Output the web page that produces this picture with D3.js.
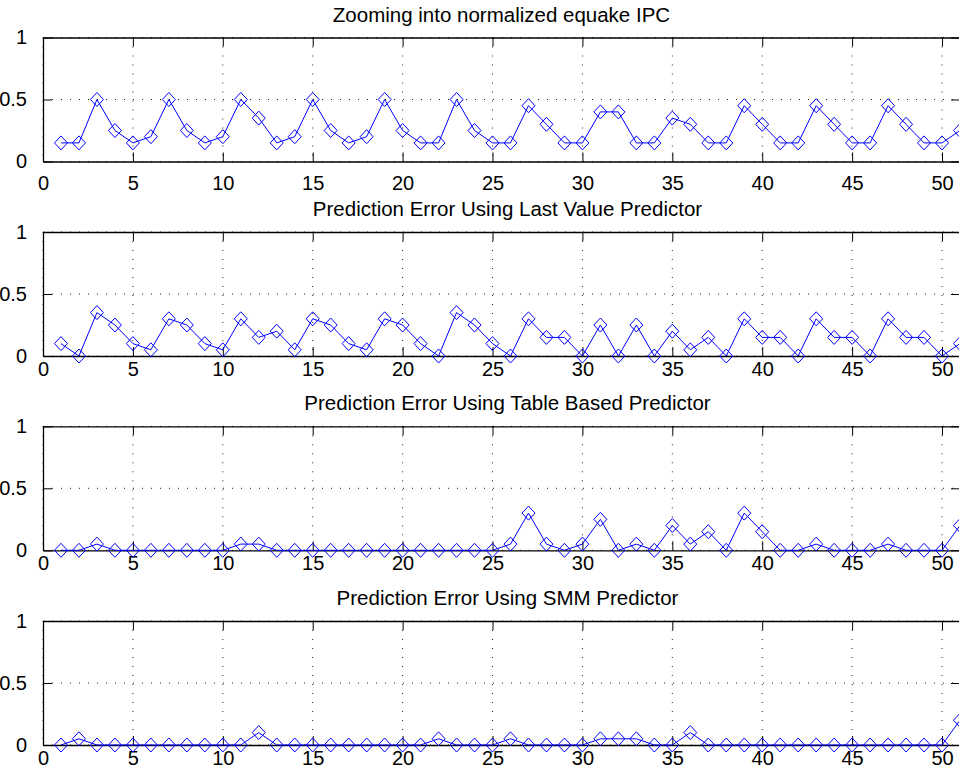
<!DOCTYPE html>
<html>
<head>
<meta charset="utf-8">
<script src="https://cdn.jsdelivr.net/npm/d3@7"></script>
<style>
  html, body { margin: 0; padding: 0; background: #fff; }
  svg { display: block; }
  text { font-family: "Liberation Sans", Arial, Helvetica, sans-serif; fill: #000; }
</style>
</head>
<body>
<svg id="fig" width="959" height="774"></svg>
<script>
// Sample index along the trace
const steps = [1,2,3,4,5,6,7,8,9,10,11,12,13,14,15,16,17,18,19,20,21,22,23,24,25,
               26,27,28,29,30,31,32,33,34,35,36,37,38,39,40,41,42,43,44,45,46,47,48,49,50,51];

// Normalized equake IPC
const ipc = [0.15,0.15,0.5,0.25,0.15,0.2,0.5,0.25,0.15,0.2,0.5,0.35,0.15,0.2,0.5,0.25,0.15,0.2,0.5,0.25,
             0.15,0.15,0.5,0.25,0.15,0.15,0.45,0.3,0.15,0.15,0.4,0.4,0.15,0.15,0.35,0.3,0.15,0.15,0.45,0.3,
             0.15,0.15,0.45,0.3,0.15,0.15,0.45,0.3,0.15,0.15,0.25];

// Prediction error, last value predictor
const errLastValue = [0.1,0,0.35,0.25,0.1,0.05,0.3,0.25,0.1,0.05,0.3,0.15,0.2,0.05,0.3,0.25,0.1,0.05,0.3,0.25,
                      0.1,0,0.35,0.25,0.1,0,0.3,0.15,0.15,0,0.25,0,0.25,0,0.2,0.05,0.15,0,0.3,0.15,
                      0.15,0,0.3,0.15,0.15,0,0.3,0.15,0.15,0,0.1];

// Prediction error, table based predictor
const errTable = [0,0,0.05,0,0,0,0,0,0,0,0.05,0.05,0,0,0,0,0,0,0,0,
                  0,0,0,0,0,0.05,0.3,0.05,0,0.05,0.25,0,0.05,0,0.2,0.05,0.15,0,0.3,0.15,
                  0,0,0.05,0,0,0,0.05,0,0,0,0.2];

// Prediction error, SMM predictor
const errSMM = [0,0.05,0,0,0,0,0,0,0,0,0,0.1,0,0,0,0,0,0,0,0,
                0,0.05,0,0,0,0.05,0,0,0,0,0.05,0.05,0.05,0,0,0.1,0,0,0,0,
                0,0,0,0,0,0,0,0,0,0,0.2];

const titles = [
  "Zooming into normalized equake IPC",
  "Prediction Error Using Last Value Predictor",
  "Prediction Error Using Table Based Predictor",
  "Prediction Error Using SMM Predictor"
];
const seriesList = [ipc, errLastValue, errTable, errSMM];

const xTicks = [0,5,10,15,20,25,30,35,40,45,50];
const yTicks = [0,0.5,1];
const xDomain = [0, 51];
const yDomain = [0, 1];

// Layout of the four stacked axes
const left = 43, right = 960;
const panelTops = [37.5, 232, 426.3, 621];
const panelH = 124;
const xLabelPad = [14, 6, 6, 6];
const tickLen = 9;
const blue = "#0000ff";

const svg = d3.select("#fig");
svg.append("rect").attr("width", 959).attr("height", 774).attr("fill", "#fff");

const x = d3.scaleLinear().domain(xDomain).range([left, right]);
const diamond = "M0,-7L6.5,0L0,7L-6.5,0Z";

seriesList.forEach((vals, i) => {
  const top = panelTops[i];
  const y = d3.scaleLinear().domain(yDomain).range([top + panelH, top]);
  const g = svg.append("g");

  // dotted grid
  g.append("g").selectAll("line").data(xTicks).join("line")
    .attr("x1", d => x(d)).attr("x2", d => x(d))
    .attr("y1", top).attr("y2", top + panelH)
    .attr("stroke", "#222").attr("stroke-width", 1).attr("stroke-dasharray", "1,8");
  g.append("g").selectAll("line").data(yTicks).join("line")
    .attr("x1", left).attr("x2", right)
    .attr("y1", d => y(d)).attr("y2", d => y(d))
    .attr("stroke", "#222").attr("stroke-width", 1).attr("stroke-dasharray", "1,8");

  // axes: bottom/left with labels, top/right without, all ticks pointing inward
  const bottomAxis = d3.axisBottom(x).tickValues(xTicks).tickFormat(d3.format("d"))
    .tickSizeInner(-tickLen).tickSizeOuter(0).tickPadding(xLabelPad[i]);
  const topAxis = d3.axisTop(x).tickValues(xTicks).tickFormat("")
    .tickSizeInner(-tickLen).tickSizeOuter(0);
  const leftAxis = d3.axisLeft(y).tickValues(yTicks).tickFormat(d => d === 0.5 ? "0.5" : d3.format("d")(d))
    .tickSizeInner(-tickLen).tickSizeOuter(0).tickPadding(16);
  const rightAxis = d3.axisRight(y).tickValues(yTicks).tickFormat("")
    .tickSizeInner(-tickLen).tickSizeOuter(0);

  const styleAxis = sel => {
    sel.selectAll("path.domain").attr("stroke", "#000").attr("stroke-width", 1.3);
    sel.selectAll(".tick line").attr("stroke", "#000").attr("stroke-width", 1);
    sel.selectAll(".tick text").attr("font-size", 20)
      .attr("font-family", "'Liberation Sans', Arial, sans-serif").attr("fill", "#000");
  };

  g.append("g").attr("transform", `translate(0,${top + panelH})`).call(bottomAxis).call(styleAxis);
  g.append("g").attr("transform", `translate(0,${top})`).call(topAxis).call(styleAxis);
  g.append("g").attr("transform", `translate(${left},0)`).call(leftAxis).call(styleAxis);
  g.append("g").attr("transform", `translate(${right},0)`).call(rightAxis).call(styleAxis);

  // data trace
  const line = d3.line().x((d, k) => x(steps[k])).y(d => y(d));
  g.append("path").datum(vals)
    .attr("d", line).attr("fill", "none").attr("stroke", blue).attr("stroke-width", 1);
  g.append("g").selectAll("path").data(vals).join("path")
    .attr("transform", (d, k) => `translate(${x(steps[k])},${y(d)})`)
    .attr("d", diamond).attr("fill", "none").attr("stroke", blue).attr("stroke-width", 1);

  // title
  g.append("text")
    .attr("x", (left + right) / 2 + (i === 0 ? 0 : 6))
    .attr("y", top - 16)
    .attr("text-anchor", "middle")
    .attr("font-size", 20.5)
    .text(titles[i]);
});
</script>
</body>
</html>
